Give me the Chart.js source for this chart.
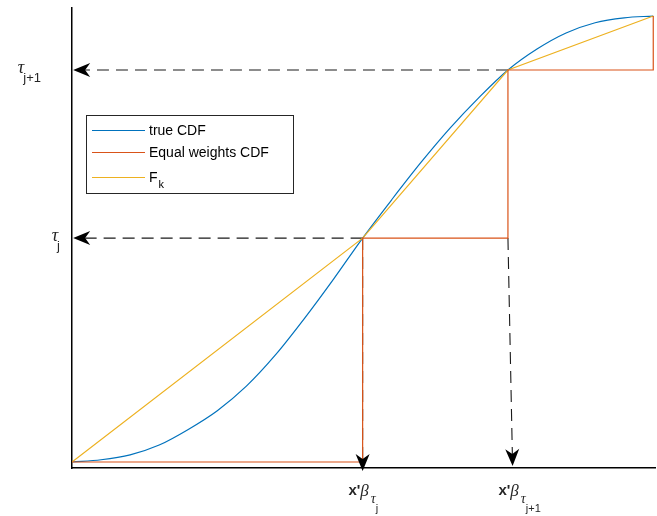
<!DOCTYPE html>
<html>
<head>
<meta charset="utf-8">
<script src="https://cdn.jsdelivr.net/npm/chart.js@4.4.1/dist/chart.umd.min.js"></script>
<style>
  html, body { margin: 0; padding: 0; background: #ffffff; }
  #wrap { width: 657px; height: 516px; }
</style>
</head>
<body>
<div id="wrap"><canvas id="cdf" width="657" height="516"></canvas></div>
<script>
// Quantile levels on the vertical axis and their quantile positions
const tauLevels = [0.502, 0.879];
const tauSubscripts = ['j', 'j+1'];
const quantileTickX = [0.5, 0.758];
const quantileSubscripts = ['j', 'j+1'];

// True CDF sampled on a grid
const trueCdfX = [0, 0.05, 0.1, 0.15, 0.2, 0.25, 0.3, 0.35, 0.4, 0.45, 0.5,
                  0.55, 0.6, 0.65, 0.7, 0.75, 0.8, 0.85, 0.9, 0.95, 1.0];
const trueCdfY = [0, 0.005, 0.016, 0.038, 0.073, 0.115, 0.170, 0.240, 0.322, 0.410, 0.502,
                  0.588, 0.671, 0.748, 0.817, 0.879, 0.926, 0.962, 0.985, 0.996, 1.0];

// Equal weights CDF (step function)
const equalWtX = [0, 0.5, 0.5, 0.75, 0.75, 1, 1];
const equalWtY = [0, 0, 0.502, 0.502, 0.879, 0.879, 1];

// F_k: linear interpolation between the quantile knots
const fkX = [0, 0.5, 0.75, 1];
const fkY = [0, 0.502, 0.879, 1];

// Guide arrows (data coordinates): start point and tip
const arrowFromX = [0.75, 0.5, 0.5, 0.75];
const arrowFromY = [0.879, 0.502, 0.502, 0.502];
const arrowToX   = [0.002, 0.002, 0.5, 0.758];
const arrowToY   = [0.879, 0.502, -0.020, -0.009];

const toPoints = (xs, ys) => xs.map((x, i) => ({ x: x, y: ys[i] }));

const C_BLUE = '#0072BD', C_RED = '#D95319', C_YELLOW = '#EDB120';

function drawArrowHead(ctx, tx, ty, ux, uy) {
  const len = 17, half = 7, notch = 12;
  const nx = -uy, ny = ux;
  const bx = tx - ux * len, by = ty - uy * len;
  ctx.beginPath();
  ctx.moveTo(tx, ty);
  ctx.lineTo(bx + nx * half, by + ny * half);
  ctx.lineTo(tx - ux * notch, ty - uy * notch);
  ctx.lineTo(bx - nx * half, by - ny * half);
  ctx.closePath();
  ctx.fill();
}

function arrowGeometry(chart, i) {
  const xs = chart.scales.x, ys = chart.scales.y;
  const x0 = xs.getPixelForValue(arrowFromX[i]), y0 = ys.getPixelForValue(arrowFromY[i]);
  const x1 = xs.getPixelForValue(arrowToX[i]), y1 = ys.getPixelForValue(arrowToY[i]);
  const d = Math.hypot(x1 - x0, y1 - y0);
  return { x0, y0, x1, y1, ux: (x1 - x0) / d, uy: (y1 - y0) / d };
}

// Dashed shafts go under the curves, heads on top
const guideArrows = {
  id: 'guideArrows',
  beforeDatasetsDraw(chart) {
    const ctx = chart.ctx;
    ctx.save();
    ctx.strokeStyle = '#1a1a1a';
    ctx.lineWidth = 1.1;
    ctx.setLineDash([12, 7]);
    for (let i = 0; i < arrowFromX.length; i++) {
      const g = arrowGeometry(chart, i);
      ctx.beginPath();
      ctx.moveTo(g.x0, g.y0);
      ctx.lineTo(g.x1 - g.ux * 12, g.y1 - g.uy * 12);
      ctx.stroke();
    }
    ctx.restore();
  },
  afterDatasetsDraw(chart) {
    const ctx = chart.ctx;
    ctx.save();
    ctx.fillStyle = '#000000';
    for (let i = 0; i < arrowFromX.length; i++) {
      const g = arrowGeometry(chart, i);
      drawArrowHead(ctx, g.x1, g.y1, g.ux, g.uy);
    }
    ctx.restore();
  }
};

// Tick labels with subscript typesetting
const quantileLabels = {
  id: 'quantileLabels',
  afterDraw(chart) {
    const ctx = chart.ctx;
    const xs = chart.scales.x, ys = chart.scales.y;
    const area = chart.chartArea;
    ctx.save();
    ctx.fillStyle = '#262626';
    ctx.textBaseline = 'alphabetic';
    ctx.textAlign = 'left';

    // vertical axis: tau_j, tau_{j+1}
    const tauFont = 'italic 18px "Liberation Serif"';
    const subFont = '13px "Liberation Sans"';
    tauLevels.forEach((t, i) => {
      const y = ys.getPixelForValue(t);
      const sub = tauSubscripts[i];
      ctx.font = subFont;
      const sw = ctx.measureText(sub).width;
      ctx.font = tauFont;
      const tw = ctx.measureText('τ').width;
      const right = area.left - 12 - 9.5 * (sub.length - 1);
      const sx = right - sw;
      const tx = sx - tw + 1;
      ctx.font = tauFont;
      ctx.fillText('τ', tx, y + 3);
      ctx.font = subFont;
      ctx.fillText(sub, sx, y + 12);
    });

    // horizontal axis: x'β_{τ_j}
    const xFont = 'bold 15px "Liberation Sans"';
    const betaFont = 'italic 17px "Liberation Serif"';
    const tauSubFont = 'italic 14px "Liberation Serif"';
    const subSubFont = '11px "Liberation Sans"';
    const base = area.bottom + 27;
    quantileTickX.forEach((q, i) => {
      const cx = xs.getPixelForValue(q);
      ctx.font = xFont; const w1 = ctx.measureText("x'").width;
      ctx.font = betaFont; const w2 = ctx.measureText('β').width + 1;
      ctx.font = tauSubFont; const w3 = ctx.measureText('τ').width;
      let x = cx - (w1 + w2 + w3 + 2) / 2;
      ctx.font = xFont; ctx.fillText("x'", x, base); x += w1;
      ctx.font = betaFont; ctx.fillText('β', x, base + 1); x += w2 + 1;
      ctx.font = tauSubFont; ctx.fillText('τ', x, base + 8);
      ctx.font = subSubFont; ctx.fillText(quantileSubscripts[i], x + 5, base + 17);
    });
    ctx.restore();
  }
};

// Legend box inside the axes
const boxLegend = {
  id: 'boxLegend',
  afterDraw(chart) {
    const ctx = chart.ctx;
    const area = chart.chartArea;
    const left = area.left + 14.5, top = area.top + 107.5;
    const w = 207, h = 78;
    ctx.save();
    ctx.fillStyle = '#ffffff';
    ctx.fillRect(left, top, w, h);
    ctx.strokeStyle = '#262626';
    ctx.lineWidth = 1;
    ctx.strokeRect(left, top, w, h);
    const baselines = [19.5, 41.5, 66.5];
    chart.data.datasets.forEach((ds, i) => {
      const b = top + baselines[i];
      const ly = b - 4.5;
      ctx.strokeStyle = ds.borderColor;
      ctx.lineWidth = 1.2;
      ctx.beginPath();
      ctx.moveTo(left + 5.5, ly);
      ctx.lineTo(left + 58.5, ly);
      ctx.stroke();
      ctx.fillStyle = '#000000';
      ctx.textBaseline = 'alphabetic';
      ctx.font = '14px "Liberation Sans"';
      const tx = left + 62.5;
      if (ds.label === 'F_k') {
        ctx.fillText('F', tx, b);
        const fw = ctx.measureText('F').width;
        ctx.font = '11px "Liberation Sans"';
        ctx.fillText('k', tx + fw + 1, b + 6);
      } else {
        ctx.fillText(ds.label, tx, b);
      }
    });
    ctx.restore();
  }
};

new Chart(document.getElementById('cdf'), {
  type: 'scatter',
  data: {
    datasets: [
      { label: 'true CDF', data: toPoints(trueCdfX, trueCdfY), borderColor: C_BLUE,
        showLine: true, pointRadius: 0, borderWidth: 1.2, cubicInterpolationMode: 'monotone', order: 3 },
      { label: 'Equal weights CDF', data: toPoints(equalWtX, equalWtY), borderColor: C_RED,
        showLine: true, pointRadius: 0, borderWidth: 1.2, order: 1 },
      { label: 'F_k', data: toPoints(fkX, fkY), borderColor: C_YELLOW,
        showLine: true, pointRadius: 0, borderWidth: 1.2, order: 2 }
    ]
  },
  options: {
    responsive: false,
    animation: false,
    devicePixelRatio: 1,
    layout: { padding: { left: 72, right: 2, top: 8, bottom: 48 } },
    plugins: { legend: { display: false }, tooltip: { enabled: false } },
    scales: {
      x: {
        type: 'linear', min: 0, max: 1.003,
        ticks: { display: false },
        grid: { display: false, drawTicks: false },
        border: { display: true, color: '#000000', width: 1.5 }
      },
      y: {
        type: 'linear', min: -0.0135, max: 1.018,
        ticks: { display: false },
        grid: { display: false, drawTicks: false },
        border: { display: true, color: '#000000', width: 1.5 }
      }
    }
  },
  plugins: [guideArrows, quantileLabels, boxLegend]
});
</script>
</body>
</html>
